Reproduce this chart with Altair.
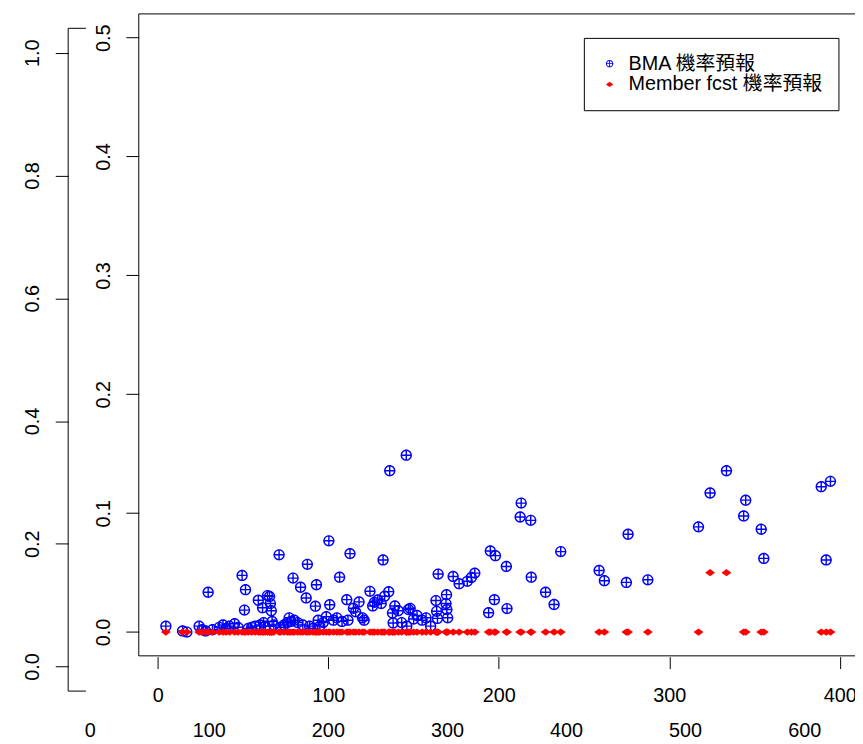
import altair as alt
import pandas as pd

# ---------------- data ----------------
case_x = [4.7, 14.5, 17.0, 24.2, 26.0, 28.0, 29.5, 32.0, 36.0, 38.2, 40.0, 42.0, 45.0, 47.0,
          49.4, 50.8, 51.4, 53.0, 55.0, 57.0, 58.9, 60.0, 61.4, 62.0, 63.0, 64.3, 65.5, 66.0,
          66.5, 67.0, 68.0, 71.1, 72.0, 74.0, 76.0, 77.0, 78.0, 79.3, 80.0, 82.0, 83.7, 85.0,
          87.0, 87.7, 89.0, 91.0, 92.4, 93.0, 94.0, 95.0, 97.0, 98.8, 100.3, 100.8, 103.0,
          105.0, 106.6, 108.0, 110.8, 111.5, 112.7, 114.7, 116.0, 118.0, 120.0, 121.0, 124.4,
          126.0, 127.0, 129.0, 131.0, 132.1, 133.0, 135.4, 136.0, 137.6, 138.0, 139.0, 141.0,
          143.0, 145.7, 146.0, 147.0, 148.0, 150.0, 152.0, 155.0, 157.3, 160.0, 163.1, 163.5,
          164.0, 164.4, 169.0, 169.3, 169.5, 170.0, 173.2, 176.7, 181.5, 183.9, 185.9, 194.0,
          195.0, 197.4, 198.0, 204.4, 204.8, 212.5, 213.1, 218.7, 219.0, 227.4, 232.4, 236.3,
          258.8, 261.9, 274.8, 275.8, 287.4, 317.1, 323.9, 333.5, 343.6, 344.8, 353.9, 355.4,
          389.1, 392.0, 394.5]
bma_prob = [0.005, 0.001, 0.000, 0.005, 0.002, 0.001, 0.0335, 0.002, 0.004, 0.006, 0.003, 0.005,
            0.007, 0.004, 0.0477, 0.0185, 0.0357, 0.003, 0.004, 0.005, 0.0268, 0.006, 0.0204,
            0.008, 0.005, 0.0307, 0.030, 0.024, 0.018, 0.009, 0.006, 0.065, 0.004, 0.006, 0.008,
            0.012, 0.009, 0.0454, 0.010, 0.008, 0.0377, 0.006, 0.0287, 0.057, 0.005, 0.003,
            0.0218, 0.0398, 0.010, 0.005, 0.008, 0.013, 0.0768, 0.023, 0.010, 0.012, 0.0462,
            0.009, 0.0273, 0.010, 0.066, 0.020, 0.017, 0.0254, 0.012, 0.010, 0.0343, 0.022,
            0.025, 0.027, 0.024, 0.0607, 0.0302, 0.034, 0.1357, 0.016, 0.0077, 0.022, 0.018,
            0.008, 0.1488, 0.005, 0.019, 0.020, 0.011, 0.014, 0.010, 0.012, 0.005, 0.0265,
            0.0175, 0.0115, 0.0488, 0.024, 0.0315, 0.019, 0.012, 0.0468, 0.0407, 0.0427, 0.046,
            0.0496, 0.0163, 0.0682, 0.0273, 0.0643, 0.0552, 0.0198, 0.0968, 0.1085, 0.094,
            0.0462, 0.0335, 0.0232, 0.0677, 0.0518, 0.0432, 0.0418, 0.0823, 0.044, 0.0885,
            0.117, 0.1357, 0.0977, 0.111, 0.0865, 0.062, 0.1223, 0.0607, 0.1268]
member_prob = [0.05 if x in (323.9, 333.5) else 0.0 for x in case_x]

series_names = ["BMA 機率預報", "Member fcst 機率預報"]
series_colors = ["#0000ff", "#ff0000"]

inner_x_ticks = [0, 100, 200, 300, 400]
inner_y_ticks = [0.0, 0.1, 0.2, 0.3, 0.4, 0.5]
outer_x_ticks = [0, 100, 200, 300, 400, 500, 600]
outer_y_ticks = [0.0, 0.2, 0.4, 0.6, 0.8, 1.0]

# frame extents (data units of each coordinate system)
inner_box = {"x0": -11.2, "y0": -0.02, "y1": 0.52}
outer_box = {"x0": -18.1, "x1": -3.2, "y0": -0.04, "y1": 1.04}

# ---------------- layout ----------------
W, H = 855, 736
FONT = "Liberation Sans, Arial, Noto Sans CJK TC, sans-serif"
IN_X = [-87.91, 408.9]
IN_Y = [-0.09125, 0.52208]
OUT_X = [-68.64, 642.68]
OUT_Y = [-0.12058, 1.06748]

# circle with a plus (R pch 10) drawn as a filled ring + bars, so legend and marks agree
circle_plus = ("M-1,0A1,1,0,1,1,1,0A1,1,0,1,1,-1,0Z"
               "M-0.75,0A0.75,0.75,0,1,0,0.75,0A0.75,0.75,0,1,0,-0.75,0Z"
               "M-0.125,-1L0.125,-1L0.125,1L-0.125,1Z"
               "M-1,-0.125L1,-0.125L1,0.125L-1,0.125Z")
diamond = "M-1,0L0,-0.72L1,0L0,0.72Z"


def sc(dom):
    return alt.Scale(domain=dom, nice=False, zero=False)


ax_common = dict(labelFontSize=20, labelFont=FONT, labelColor="black", tickColor="black",
                 grid=False, domain=False, title=None, labelFlush=False, labelOverlap=False)

# outer frame (left bracket) with outer axes
outer_df = pd.DataFrame({
    "x": [outer_box["x0"], outer_box["x0"], outer_box["x0"]],
    "x2": [outer_box["x0"], outer_box["x1"], outer_box["x1"]],
    "y": [outer_box["y0"], outer_box["y1"], outer_box["y0"]],
    "y2": [outer_box["y1"], outer_box["y1"], outer_box["y0"]],
})
outer = alt.Chart(outer_df).mark_rule(color="black", strokeWidth=1).encode(
    x=alt.X("x:Q", scale=sc(OUT_X), axis=alt.Axis(
        orient="bottom", values=outer_x_ticks, format="d", ticks=False, tickSize=0,
        offset=-20, labelPadding=0, labelBaseline="top", **ax_common)),
    x2="x2:Q",
    y=alt.Y("y:Q", scale=sc(OUT_Y), axis=alt.Axis(
        orient="left", values=outer_y_ticks, format=".1f", tickSize=13, offset=-60.7,
        labelAngle=270, labelAlign="center", labelBaseline="alphabetic", labelPadding=17,
        **ax_common)),
    y2="y2:Q",
)

# inner box with inner axes
inner_df = pd.DataFrame({
    "x": [inner_box["x0"], inner_box["x0"], inner_box["x0"]],
    "x2": [inner_box["x0"], IN_X[1], IN_X[1]],
    "y": [inner_box["y0"], inner_box["y1"], inner_box["y0"]],
    "y2": [inner_box["y1"], inner_box["y1"], inner_box["y0"]],
})
inner = alt.Chart(inner_df).mark_rule(color="black", strokeWidth=1).encode(
    x=alt.X("x:Q", scale=sc(IN_X), axis=alt.Axis(
        orient="bottom", values=inner_x_ticks, format="d", tickSize=12, offset=-84.7,
        labelPadding=17, labelBaseline="top", **ax_common)),
    x2="x2:Q",
    y=alt.Y("y:Q", scale=sc(IN_Y), axis=alt.Axis(
        orient="left", values=inner_y_ticks, format=".1f", tickSize=13, offset=-132,
        labelAngle=270, labelAlign="center", labelBaseline="alphabetic", labelPadding=17,
        **ax_common)),
    y2="y2:Q",
)

pts = pd.DataFrame({
    "x": case_x + case_x,
    "p": bma_prob + member_prob,
    "series": [series_names[0]] * len(case_x) + [series_names[1]] * len(case_x),
})

legend = alt.Legend(orient="none", legendX=581.3, legendY=26.7, title=None,
                    labelFontSize=20, labelFont=FONT, labelColor="black", labelLimit=0,
                    strokeColor="black", fillColor="white", padding=16, cornerRadius=0,
                    symbolSize=55, symbolStrokeWidth=0, labelOffset=9, rowPadding=1)
color = alt.Color("series:N", scale=alt.Scale(domain=series_names, range=series_colors),
                  legend=legend)
shape = alt.Shape("series:N", scale=alt.Scale(domain=series_names, range=[circle_plus, diamond]),
                  legend=legend)

base = alt.Chart(pts).encode(
    x=alt.X("x:Q", scale=sc(IN_X), axis=None),
    y=alt.Y("p:Q", scale=sc(IN_Y), axis=None),
    color=color,
    shape=shape,
)
blue = base.transform_filter(alt.datum.series == series_names[0]).mark_point(
    filled=True, size=130, strokeWidth=0, opacity=1)
red = base.transform_filter(alt.datum.series == series_names[1]).mark_point(
    filled=True, size=100, strokeWidth=0, opacity=1)

chart = alt.layer(outer, inner, blue, red).resolve_scale(
    x="independent", y="independent"
).properties(
    width=W, height=H, padding=0, autosize=alt.AutoSizeParams(type="none"),
    background="white",
).configure_view(stroke=None)

chart.save("out.html", embed_options={"renderer": "svg", "actions": False})
